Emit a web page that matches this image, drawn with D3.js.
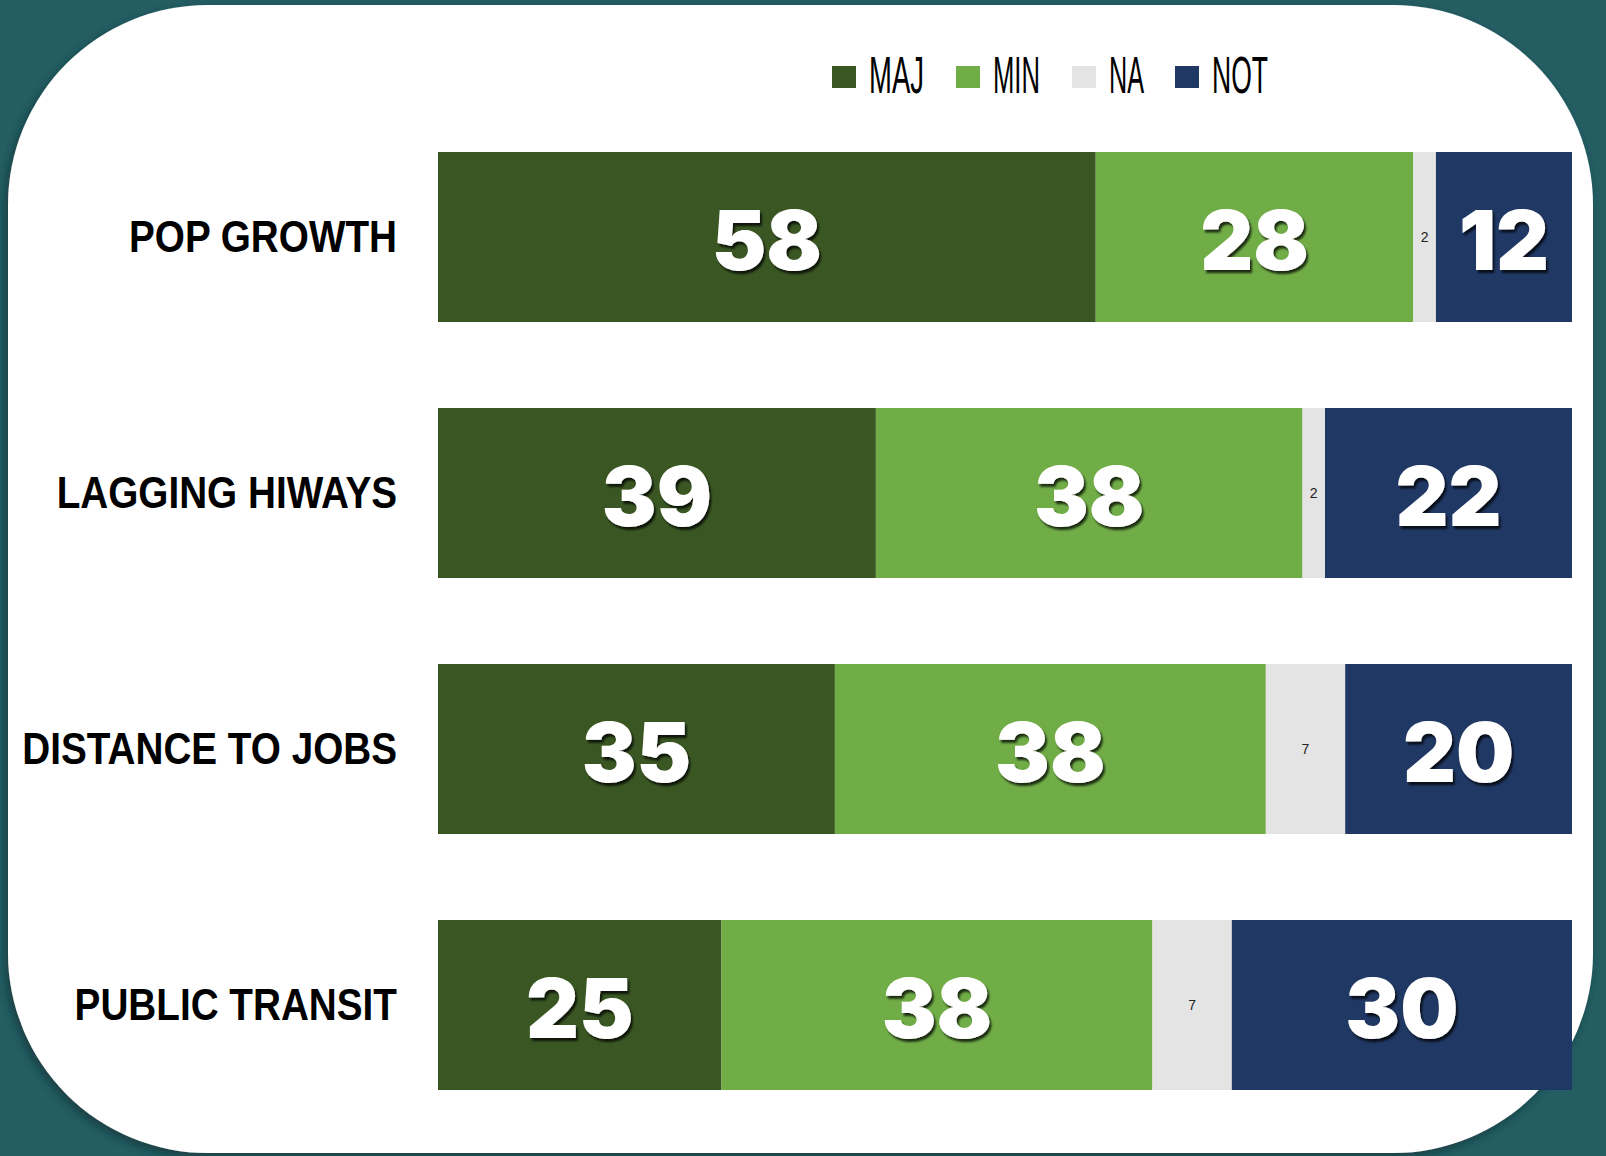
<!DOCTYPE html>
<html>
<head>
<meta charset="utf-8">
<script src="https://cdn.jsdelivr.net/npm/d3@7"></script>
<style>
  html, body { margin: 0; padding: 0; background: #245e63; }
  svg { display: block; }
</style>
</head>
<body>
<svg id="chart"></svg>
<script>
// data
const categories = ["POP GROWTH", "LAGGING HIWAYS", "DISTANCE TO JOBS", "PUBLIC TRANSIT"];
const seriesNames = ["MAJ", "MIN", "NA", "NOT"];
const majValues = [58, 39, 35, 25];
const minValues = [28, 38, 38, 38];
const naValues = [2, 2, 7, 7];
const notValues = [12, 22, 20, 30];
const seriesColors = ["#3a5723", "#70ad47", "#e4e4e4", "#203864"];

const width = 1606;
const height = 1156;

const svg = d3.select("#chart")
  .attr("width", width)
  .attr("height", height);

const defs = svg.append("defs");

const cardShadow = defs.append("filter")
  .attr("id", "cardShadow")
  .attr("x", "-5%").attr("y", "-5%")
  .attr("width", "110%").attr("height", "110%");
cardShadow.append("feDropShadow")
  .attr("dx", -3).attr("dy", 4)
  .attr("stdDeviation", 5)
  .attr("flood-color", "#0d2e31")
  .attr("flood-opacity", 0.7);

const textShadow = defs.append("filter")
  .attr("id", "textShadow")
  .attr("x", "-20%").attr("y", "-20%")
  .attr("width", "140%").attr("height", "140%");
textShadow.append("feDropShadow")
  .attr("dx", 2).attr("dy", 3)
  .attr("stdDeviation", 1.2)
  .attr("flood-color", "#000")
  .attr("flood-opacity", 0.75);

// background + white rounded card
svg.append("rect")
  .attr("width", width)
  .attr("height", height)
  .attr("fill", "#245e63");

svg.append("rect")
  .attr("x", 8)
  .attr("y", 5)
  .attr("width", 1585)
  .attr("height", 1148)
  .attr("rx", 200)
  .attr("ry", 200)
  .attr("fill", "#ffffff")
  .attr("filter", "url(#cardShadow)");

// build stacked rows
const rows = categories.map((c, i) => ({
  category: c,
  MAJ: majValues[i],
  MIN: minValues[i],
  NA: naValues[i],
  NOT: notValues[i]
}));

const stacked = d3.stack()
  .keys(seriesNames)
  .offset(d3.stackOffsetExpand)(rows);

const x = d3.scaleLinear()
  .domain([0, 1])
  .range([438, 1572]);

const y = d3.scaleBand()
  .domain(categories)
  .range([109, 1133])
  .paddingInner(0.336)
  .paddingOuter(0.168);

const color = d3.scaleOrdinal()
  .domain(seriesNames)
  .range(seriesColors);

const layers = svg.append("g")
  .selectAll("g.layer")
  .data(stacked)
  .enter()
  .append("g")
  .attr("class", "layer")
  .attr("fill", d => color(d.key));

layers.selectAll("rect")
  .data(d => d.map(seg => ({ key: d.key, seg })))
  .enter()
  .append("rect")
  .attr("x", d => x(d.seg[0]))
  .attr("y", d => y(d.seg.data.category))
  .attr("width", d => x(d.seg[1]) - x(d.seg[0]))
  .attr("height", y.bandwidth());

// value labels
layers.selectAll("text")
  .data(d => d.map(seg => ({ key: d.key, seg })))
  .enter()
  .append("text")
  .attr("x", d => (x(d.seg[0]) + x(d.seg[1])) / 2)
  .attr("y", d => y(d.seg.data.category) + y.bandwidth() / 2 + (d.key === "NA" ? 5 : 33))
  .attr("text-anchor", "middle")
  .style("font-family", d => d.key === "NA" ? "'Liberation Sans', Arial, sans-serif" : "Inter, 'DejaVu Sans', sans-serif")
  .style("font-weight", d => d.key === "NA" ? 400 : 900)
  .style("font-size", d => d.key === "NA" ? "14px" : "82px")
  .style("fill", d => d.key === "NA" ? "#222" : "#ffffff")
  .attr("filter", d => d.key === "NA" ? null : "url(#textShadow)")
  .text(d => d.seg.data[d.key]);

// category labels (narrow bold look: squeeze horizontally)
svg.append("g")
  .selectAll("text")
  .data(categories)
  .enter()
  .append("text")
  .attr("transform", d => `translate(397,${y(d) + y.bandwidth() / 2 + 15}) scale(0.86,1)`)
  .attr("text-anchor", "end")
  .style("font-family", "'Liberation Sans', Arial, sans-serif")
  .style("font-weight", 700)
  .style("font-size", "45px")
  .style("fill", "#000")
  .text(d => d);

// legend
const legendX = [832, 956, 1072, 1175];
const legendTextW = [55, 47, 35, 56];

const legend = svg.append("g")
  .selectAll("g")
  .data(seriesNames)
  .enter()
  .append("g")
  .attr("transform", (d, i) => `translate(${legendX[i]},0)`);

legend.append("rect")
  .attr("x", 0)
  .attr("y", 66)
  .attr("width", 24)
  .attr("height", 22)
  .attr("fill", d => color(d));

legend.append("text")
  .attr("x", 37)
  .attr("y", 93)
  .attr("textLength", (d, i) => legendTextW[i])
  .attr("lengthAdjust", "spacingAndGlyphs")
  .style("font-family", "'Liberation Sans', Arial, sans-serif")
  .style("font-size", "51px")
  .style("fill", "#000")
  .text(d => d);
</script>
</body>
</html>
